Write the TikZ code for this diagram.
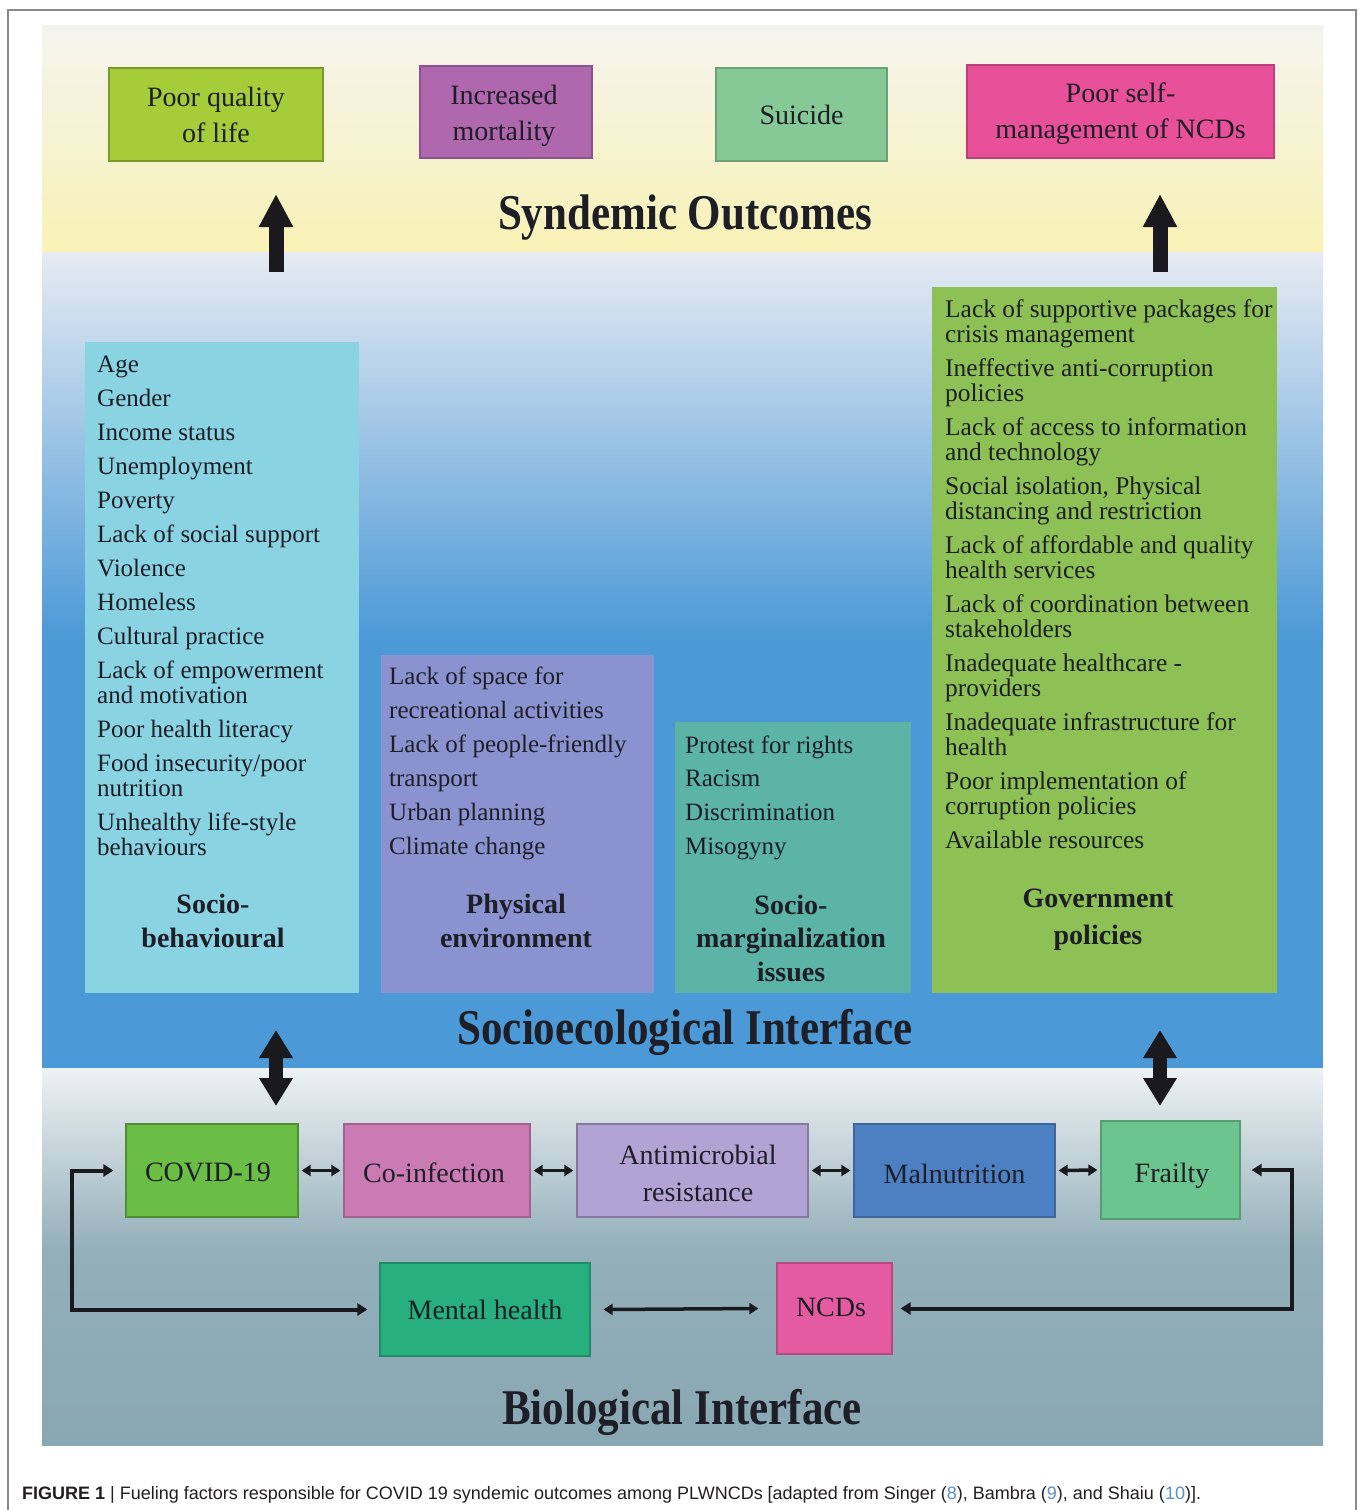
\documentclass[tikz,border=0pt]{standalone}
\usepackage{fontspec}
\setmainfont{Liberation Serif}
\newfontfamily\titlefont[FakeStretch=0.86]{Liberation Serif}
\newfontfamily\capfont{Liberation Sans}
\usetikzlibrary{arrows.meta}
\definecolor{yTop}{HTML}{F4F4EF}
\definecolor{yMid}{HTML}{F7F3D0}
\definecolor{yBot}{HTML}{F8F2B5}
\definecolor{sTop}{HTML}{E6EBF2}
\definecolor{sMid}{HTML}{A3C5E8}
\definecolor{sBlue}{HTML}{4B99D7}
\definecolor{bTop}{HTML}{EEF2F4}
\definecolor{bMid}{HTML}{B4C8D0}
\definecolor{bLow}{HTML}{93AFBA}
\definecolor{bBot}{HTML}{88A8B3}
\definecolor{qolc}{HTML}{A5CD39}
\definecolor{mortc}{HTML}{AF67AE}
\definecolor{suic}{HTML}{86C997}
\definecolor{selfc}{HTML}{E8509A}
\definecolor{sbc}{HTML}{8AD3E3}
\definecolor{pec}{HTML}{8A92D0}
\definecolor{smc}{HTML}{5CB4A6}
\definecolor{govc}{HTML}{8DC155}
\definecolor{covc}{HTML}{6ABD45}
\definecolor{coic}{HTML}{CB7BB4}
\definecolor{amrc}{HTML}{B3A3D5}
\definecolor{malc}{HTML}{4C80C3}
\definecolor{frac}{HTML}{6CC48F}
\definecolor{menc}{HTML}{27AF7F}
\definecolor{ncdc}{HTML}{E55BA1}
\definecolor{txt}{HTML}{1E1E26}
\definecolor{arrowc}{HTML}{1A1A1E}
\definecolor{framec}{HTML}{8A8A8A}
\definecolor{capc}{HTML}{231F20}
\definecolor{linkc}{HTML}{5B8FC9}
\newcommand{\fl}{\rule{0pt}{19pt}}
\newcommand{\flb}{\rule{0pt}{20pt}}
\tikzset{
  outbox/.style={rectangle, inner sep=0, align=center, text=txt, line width=1.2pt,
    font=\fontsize{28}{36}\selectfont},
  biobox/.style={rectangle, inner sep=0, align=center, text=txt, line width=1.2pt,
    font=\fontsize{28}{37}\selectfont},
  panelbox/.style={rectangle, inner sep=0},
  listtext/.style={anchor=north west, inner sep=0, align=left, text=txt},
  catlabel/.style={anchor=north, inner sep=0, align=center, text=txt},
  titletext/.style={anchor=base, inner sep=0, text=txt,
    font=\titlefont\bfseries\fontsize{50}{56}\selectfont},
  bigarrow/.style={line width=15pt, draw=arrowc, -{Triangle[length=33pt,width=32pt]}},
  bigdouble/.style={line width=14pt, draw=arrowc,
    {Triangle[length=28pt,width=32pt]}-{Triangle[length=28pt,width=32pt]}},
  smalldouble/.style={line width=3.5pt, draw=arrowc,
    {Triangle[length=9pt,width=11pt]}-{Triangle[length=9pt,width=11pt]}},
  loopline/.style={line width=4pt, draw=arrowc,
    {Triangle[length=10pt,width=12pt]}-{Triangle[length=10pt,width=12pt]}}
}
\begin{document}
\begin{tikzpicture}[x=1pt,y=-1pt]
\useasboundingbox (0,0) rectangle (1358,1510);
\clip (0,0) rectangle (1358,1510);
\fill[white] (0,0) rectangle (1358,1510);
% frame
\draw[framec, line width=1.5pt] (8,10) rectangle (1356,1540);
% bands
\fill[top color=yTop, middle color=yMid, bottom color=yBot] (42,25) rectangle (1323,252);
\fill[top color=sTop, middle color=sMid, bottom color=sBlue] (42,252) rectangle (1323,640);
\fill[sBlue] (42,639) rectangle (1323,1068);
\fill[top color=bTop, middle color=bMid, bottom color=bLow] (42,1068) rectangle (1323,1250);
\fill[top color=bLow, bottom color=bBot] (42,1249) rectangle (1323,1445);

% outcome boxes
\node[outbox, fill=qolc, draw=qolc!75!black, minimum width=214pt, minimum height=93pt] (qol) at (216,114.5) {Poor quality\\of life};
\node[outbox, fill=mortc, draw=mortc!80!black, minimum width=172pt, minimum height=92pt] (mort) at (506,112) {};
\node[outbox, anchor=center] (mortt) at (504,116) {Increased\\mortality};
\node[outbox, fill=suic, draw=suic!80!black, minimum width=171pt, minimum height=93pt] (sui) at (801.5,114.5) {Suicide};
\node[outbox, fill=selfc, draw=selfc!80!black, minimum width=307pt, minimum height=93pt] (self) at (1120.5,111.5) {};
\node[outbox, anchor=center] (selft) at (1120.5,114) {Poor self-\\management of NCDs};

\node[titletext] (t1) at (685,229) {Syndemic Outcomes};

% up arrows
\coordinate (ua1s) at (276,272);
\coordinate (ua1e) at (276,194);
\coordinate (ua2s) at (1160,272);
\coordinate (ua2e) at (1160,194);
\draw[bigarrow] (ua1s) -- (ua1e);
\draw[bigarrow] (ua2s) -- (ua2e);

% panels
\node[panelbox, fill=sbc, minimum width=274pt, minimum height=651pt] (sb) at (222,667.5) {};
\node[panelbox, fill=pec, minimum width=273pt, minimum height=338pt] (pe) at (517.5,824) {};
\node[panelbox, fill=smc, minimum width=236pt, minimum height=271pt] (sm) at (793,857.5) {};
\node[panelbox, fill=govc, minimum width=345pt, minimum height=706pt] (gov) at (1104.5,640) {};

\node[listtext, font=\fontsize{25}{25}\selectfont] (sbtext) at (97,353) {\fl Age\\[9pt]Gender\\[9pt]Income status\\[9pt]Unemployment\\[9pt]Poverty\\[9pt]Lack of social support\\[9pt]Violence\\[9pt]Homeless\\[9pt]Cultural practice\\[9pt]Lack of empowerment\\and motivation\\[9pt]Poor health literacy\\[9pt]Food insecurity/poor\\nutrition\\[9pt]Unhealthy life-style\\behaviours};
\node[catlabel, font=\bfseries\fontsize{28}{34}\selectfont] (sblab) at (213,893) {\flb Socio-\\behavioural};

\node[listtext, font=\fontsize{25}{34}\selectfont] (petext) at (389,665) {\fl Lack of space for\\recreational activities\\Lack of people-friendly\\transport\\Urban planning\\Climate change};
\node[catlabel, font=\bfseries\fontsize{28}{34}\selectfont] (pelab) at (516,893) {\flb Physical\\environment};

\node[listtext, font=\fontsize{25}{33.7}\selectfont] (smtext) at (685,734) {\fl Protest for rights\\Racism\\Discrimination\\Misogyny};
\node[catlabel, font=\bfseries\fontsize{28}{33.5}\selectfont] (smlab) at (791,894) {\flb Socio-\\marginalization\\issues};

\node[listtext, font=\fontsize{25.4}{25}\selectfont] (govtext) at (945,298) {\fl Lack of supportive packages for\\crisis management\\[9pt]Ineffective anti-corruption\\policies\\[9pt]Lack of access to information\\and technology\\[9pt]Social isolation, Physical\\distancing and restriction\\[9pt]Lack of affordable and quality\\health services\\[9pt]Lack of coordination between\\stakeholders\\[9pt]Inadequate healthcare -\\providers\\[9pt]Inadequate infrastructure for\\health\\[9pt]Poor implementation of\\corruption policies\\[9pt]Available resources};
\node[catlabel, font=\bfseries\fontsize{28}{37}\selectfont] (govlab) at (1098,887) {\flb Government\\policies};

\node[titletext] (t2) at (685,1044) {Socioecological Interface};

% double arrows between layers
\coordinate (da1s) at (276,1030);
\coordinate (da1e) at (276,1106);
\coordinate (da2s) at (1160,1030);
\coordinate (da2e) at (1160,1106);
\draw[bigdouble] (da1s) -- (da1e);
\draw[bigdouble] (da2s) -- (da2e);

% biological boxes
\node[biobox, fill=covc, draw=covc!75!black, minimum width=172pt, minimum height=93pt] (covid) at (212,1170.5) {};
\node[biobox] (covidt) at (208,1172) {COVID-19};
\node[biobox, fill=coic, draw=coic!80!black, minimum width=186pt, minimum height=93pt] (coinf) at (437,1170.5) {};
\node[biobox] (coinft) at (434,1173) {Co-infection};
\node[biobox, fill=amrc, draw=amrc!75!black, minimum width=231pt, minimum height=93pt] (amr) at (692.5,1170.5) {};
\node[biobox] (amrt) at (698,1173.5) {Antimicrobial\\resistance};
\node[biobox, fill=malc, draw=malc!80!black, minimum width=201pt, minimum height=93pt] (mal) at (954.5,1170.5) {};
\node[biobox] (malt) at (954.5,1174) {Malnutrition};
\node[biobox, fill=frac, draw=frac!80!black, minimum width=139pt, minimum height=98pt] (frail) at (1170.5,1170) {};
\node[biobox] (frailt) at (1172,1176) {Frailty};
\node[biobox, fill=menc, draw=menc!80!black, minimum width=210pt, minimum height=93pt] (mental) at (485,1309.5) {Mental health};
\node[biobox, fill=ncdc, draw=ncdc!80!black, minimum width=115pt, minimum height=91pt] (ncds) at (834.5,1308.5) {};
\node[biobox] (ncdst) at (831,1307) {NCDs};

\draw[smalldouble] ([xshift=3pt]covid.east) -- ([xshift=-3pt]coinf.west);
\draw[smalldouble] ([xshift=3pt]coinf.east) -- ([xshift=-3pt]amr.west);
\draw[smalldouble] ([xshift=3pt]amr.east) -- ([xshift=-3pt]mal.west);
\draw[smalldouble] ([xshift=3pt]mal.east) -- ([xshift=-3pt]frail.west);
\draw[smalldouble] ([xshift=13pt]mental.east) -- ([xshift=-18pt]ncds.west);

\coordinate (lc) at (72,0);
\coordinate (rc) at (1292,0);
\draw[loopline] ([xshift=-12pt]covid.west) -- (covid.west -| lc) |- ([xshift=-12pt]mental.west);
\draw[loopline] ([xshift=8pt]ncds.east) -- (ncds.east -| rc) |- ([xshift=11pt]frail.east);

\node[titletext] (t3) at (682,1424) {Biological Interface};

% caption
\node[anchor=base west, inner sep=0, text=capc, font=\capfont\fontsize{18}{20}\selectfont] (cap) at (22,1499) {{\bfseries FIGURE 1} | Fueling factors responsible for COVID 19 syndemic outcomes among PLWNCDs [adapted from Singer (\textcolor{linkc}{8}), Bambra (\textcolor{linkc}{9}), and Shaiu (\textcolor{linkc}{10})].};
\end{tikzpicture}
\end{document}
